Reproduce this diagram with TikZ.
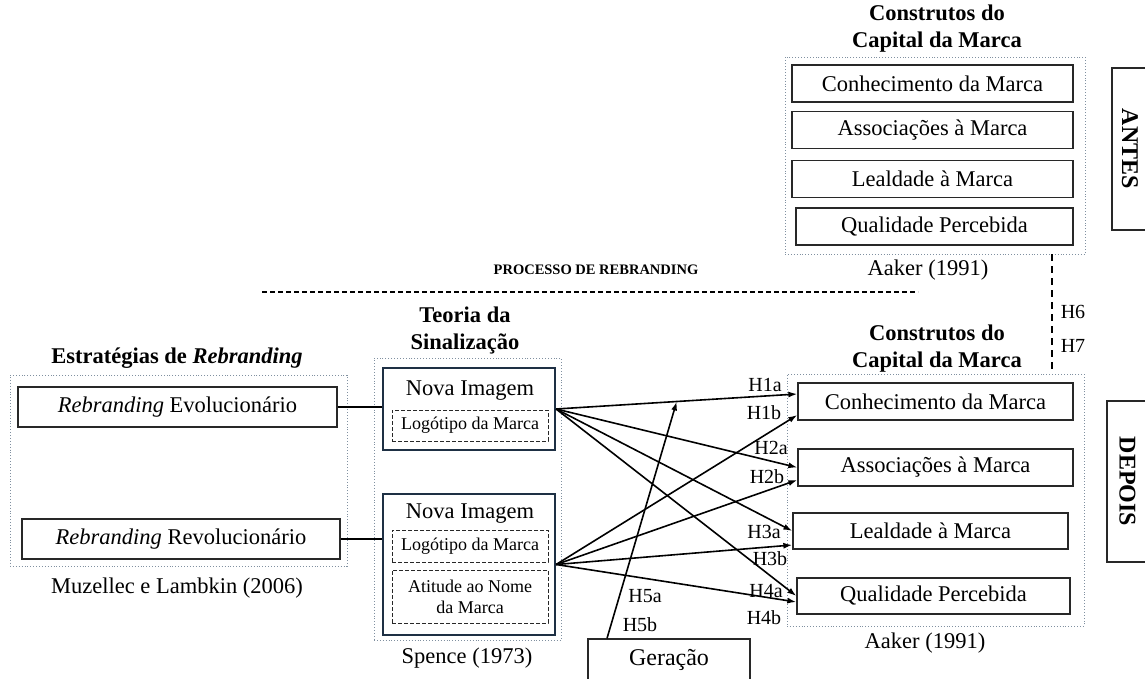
\documentclass[tikz,border=0pt]{standalone}
\usepackage{fontspec}
\setmainfont{Liberation Serif}
\usetikzlibrary{arrows.meta, positioning}

\definecolor{framegray}{RGB}{128,144,160}
\definecolor{navy}{RGB}{30,48,68}
\definecolor{boxline}{RGB}{40,40,40}
\newcommand{\fs}[2]{\fontsize{#1}{#2}\selectfont}

\begin{document}
\begin{tikzpicture}[
        x=1pt, y=-1pt,
        every node/.style={font=\fs{22.5}{26}},
        box/.style={draw=boxline, line width=1.3pt, inner sep=0pt, minimum height=37pt},
        frame/.style={draw=framegray, dotted, line width=0.9pt, inner sep=0pt},
        imgbox/.style={draw=navy, line width=2.2pt, inner sep=0pt},
        dbox/.style={draw=boxline, dash pattern=on 4pt off 2pt, line width=1pt, inner sep=0pt, align=center, font=\fs{18}{21}},
        title/.style={align=center, font=\bfseries\fs{22.5}{27}},
        sidebox/.style={draw=boxline, line width=1.3pt, inner sep=0pt, rotate=-90, font=\bfseries\fs{24}{28}},
        hlab/.style={inner sep=0pt, font=\fs{20}{22}},
        arrow/.style={-{Latex[length=9pt, width=6pt]}, line width=1.6pt},
        link/.style={line width=1.5pt},
        divider/.style={line width=1.5pt, dash pattern=on 5pt off 3pt},
        vlink/.style={line width=2pt, dash pattern=on 7pt off 5pt}
    ]
        \useasboundingbox (0,0) rectangle (1145,679);
        \clip (0,0) rectangle (1145,679);

        % antes
        \node[title] (tA) at (937,29) {Construtos do\\Capital da Marca};
        \node[frame, minimum width=300, minimum height=197] (frameA) at (935,155.5) {};
        \node[box, minimum width=281] (a1) at (932.5,83.5) {Conhecimento da Marca};
        \node[box, minimum width=281] (a2) at (932.5,130) {Associações à Marca};
        \node[box, minimum width=281] (a3) at (932.5,179) {Lealdade à Marca};
        \node[box, minimum width=277] (a4) at (934.5,226.5) {Qualidade Percebida};
        \node (srcA) at (928,270) {Aaker (1991)};
        \node[sidebox, minimum width=162, minimum height=36] (antes) at (1130,149) {ANTES};

        % processo
        \coordinate (dL) at (262,292);
        \coordinate (dR) at (918,292);
        \draw[divider] (dL) -- (dR);
        \node[font=\bfseries\fs{14.5}{16}] (proc) at (596,270) {PROCESSO DE REBRANDING};

        % depois
        \node[title] (tD) at (937,349) {Construtos do\\Capital da Marca};
        \node[frame, minimum width=297, minimum height=252] (frameD) at (935.5,500) {};
        \node[box, minimum width=275] (d1) at (935.5,401.5) {Conhecimento da Marca};
        \node[box, minimum width=275] (d2) at (935.5,467.5) {Associações à Marca};
        \node[box, minimum width=275, minimum height=36] (d3) at (930.5,531) {Lealdade à Marca};
        \node[box, minimum width=273, minimum height=36] (d4) at (933.5,596) {Qualidade Percebida};
        \node (srcD) at (925,643) {Aaker (1991)};
        \node[sidebox, minimum width=161, minimum height=41] (depois) at (1127.5,481.5) {DEPOIS};

        \draw[vlink] ([xshift=117]frameA.south) -- ([xshift=116.5]frameD.north);
        \node[hlab] (h6) at (1073,312) {H6};
        \node[hlab] (h7) at (1073,346) {H7};

        % estrategias
        \node[title] (tE) at (177,358) {Estratégias de \textit{Rebranding}};
        \node[frame, minimum width=337, minimum height=191] (frameE) at (178.5,470.5) {};
        \node[box, minimum width=319, minimum height=40] (evo) at (177.5,407) {\textit{Rebranding} Evolucionário};
        \node[box, minimum width=318, minimum height=40] (rev) at (181,539) {\textit{Rebranding} Revolucionário};
        \node (srcE) at (177,588) {Muzellec e Lambkin (2006)};

        % sinalizacao
        \node[title] (tT) at (465,331) {Teoria da\\Sinalização};
        \node[frame, minimum width=187, minimum height=282] (frameT) at (467.5,499) {};
        \node[imgbox, minimum width=172, minimum height=82] (img1) at (469,409) {};
        \node (nova1) at (470,391) {Nova Imagem};
        \node[dbox, minimum width=156, minimum height=31] (logo1) at (470,425.5) {Logótipo da Marca};
        \node[imgbox, minimum width=172, minimum height=141] (img2) at (469,564.5) {};
        \node (nova2) at (470,514) {Nova Imagem};
        \node[dbox, minimum width=156, minimum height=32] (logo2) at (470,546) {Logótipo da Marca};
        \node[dbox, minimum width=156, minimum height=53] (atit) at (470,596.5) {Atitude ao Nome\\da Marca};
        \node (srcT) at (467,658) {Spence (1973)};

        \node[box, minimum width=162, minimum height=42, font=\fs{24}{28}] (ger) at (669,660) {Geração};

        \draw[link] (evo.east) -- (evo.east -| img1.west);
        \draw[link] (rev.east) -- (rev.east -| img2.west);

        \draw[arrow] (img1.east) -- coordinate[pos=0.5] (gm) ([yshift=7.5]d1.west);
        \draw[arrow] (img1.east) -- (d2.west);
        \draw[arrow] (img1.east) -- (d3.west);
        \draw[arrow] (img1.east) -- (d4.west);
        \draw[arrow] (img2.east) -- ([yshift=-13.5]d1.west);
        \draw[arrow] (img2.east) -- ([yshift=-12.5]d2.west);
        \draw[arrow] (img2.east) -- ([yshift=-14]d3.west);
        \draw[arrow] (img2.east) -- ([yshift=-6]d4.west);
        \draw[arrow] ([xshift=-62]ger.north) -- (gm);

        \node[hlab] (h1a) at (765,385) {H1a};
        \node[hlab] (h1b) at (764,413) {H1b};
        \node[hlab] (h2a) at (771,448) {H2a};
        \node[hlab] (h2b) at (767,477) {H2b};
        \node[hlab] (h3a) at (764,532) {H3a};
        \node[hlab] (h3b) at (770,559) {H3b};
        \node[hlab] (h4a) at (766,591) {H4a};
        \node[hlab] (h4b) at (764,618) {H4b};
        \node[hlab] (h5a) at (645,596) {H5a};
        \node[hlab] (h5b) at (640,625) {H5b};
    \end{tikzpicture}
\end{document}
